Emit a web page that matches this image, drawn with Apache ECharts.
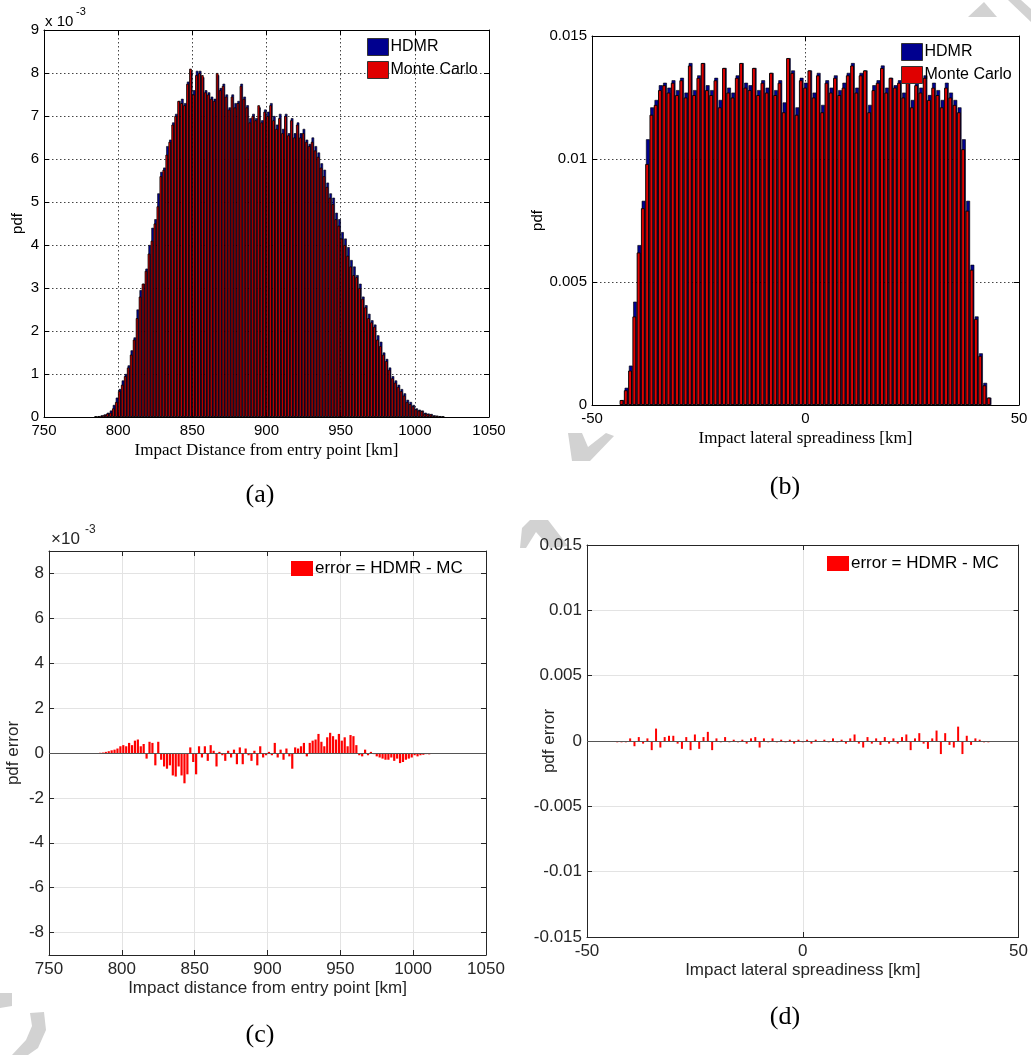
<!DOCTYPE html>
<html><head><meta charset="utf-8">
<script src="https://cdn.jsdelivr.net/npm/echarts@6/dist/echarts.min.js"></script>
<style>html,body{margin:0;padding:0;background:#fff}#c{width:1031px;height:1055px}</style>
</head><body><div id="c"></div>
<script>
// ---------- DATA ----------
// Panel (a)/(c): impact distance bins [km], pdf values in units of 1e-3
var binsA = [785,787,789,791,793,795,797,799,801,803,805,807,809,811,813,815,817,819,821,823,825,827,829,831,833,835,837,839,841,843,845,847,849,851,853,855,857,859,861,863,865,867,869,871,873,875,877,879,881,883,885,887,889,891,893,895,897,899,901,903,905,907,909,911,913,915,917,919,921,923,925,927,929,931,933,935,937,939,941,943,945,947,949,951,953,955,957,959,961,963,965,967,969,971,973,975,977,979,981,983,985,987,989,991,993,995,997,999,1001,1003,1005,1007,1009,1011,1013,1015,1017,1019];
var mcA = [0.01,0.02,0.03,0.05,0.08,0.1,0.2,0.35,0.6,0.75,
0.95,1.15,1.45,1.8,2.3,2.8,3.1,3.4,3.8,4.1,
4.5,4.9,5.6,5.75,6.1,6.4,6.8,7.0,7.35,7.3,
7.25,7.75,8.1,7.5,7.95,8.0,7.95,7.55,7.5,7.4,
7.35,8.0,7.6,7.7,7.45,7.15,7.45,7.2,7.3,7.7,
7.4,7.2,6.85,7.0,6.9,7.25,6.85,7.1,7.0,7.25,
6.9,6.7,6.95,6.6,7.0,6.55,6.9,6.5,6.8,6.5,
6.6,6.4,6.3,6.4,6.2,6.05,5.8,5.6,5.35,5.1,
4.95,4.6,4.45,4.15,4.0,3.75,3.5,3.3,3.25,3.0,
2.75,2.55,2.3,2.2,2.1,1.8,1.65,1.45,1.3,1.1,
0.9,0.8,0.7,0.6,0.5,0.35,0.3,0.25,0.18,0.15,
0.14,0.08,0.07,0.06,0.03,0.03,0.02,0.01];
var hdmrA = [0.01,0.02,0.04,0.06,0.1,0.15,0.28,0.45,0.65,0.85,
1.0,1.2,1.55,1.85,2.5,2.95,3.1,3.45,4.0,4.4,
4.6,5.2,5.7,5.8,6.3,6.45,6.85,7.05,7.35,7.4,
7.3,7.8,8.05,7.6,8.05,8.05,7.9,7.6,7.55,7.45,
7.4,7.95,7.65,7.75,7.5,7.2,7.5,7.3,7.35,7.75,
7.45,7.25,6.95,7.05,6.95,7.2,6.9,7.15,7.1,7.3,
7.0,6.8,7.05,6.7,7.05,6.6,6.95,6.6,6.85,6.6,
6.7,6.45,6.35,6.5,6.3,6.15,5.9,5.75,5.45,5.2,
5.1,4.75,4.6,4.3,4.15,3.95,3.65,3.5,3.3,3.1,
2.8,2.6,2.4,2.25,2.15,1.9,1.75,1.5,1.35,1.15,
0.95,0.85,0.75,0.65,0.55,0.4,0.35,0.28,0.2,0.17,
0.15,0.1,0.08,0.07,0.04,0.03,0.02,0.01];
var errA = [0.01,0.02,0.05,0.08,0.12,0.15,0.2,0.3,0.35,0.3,
0.45,0.35,0.55,0.6,0.3,0.4,-0.25,0.5,0.45,-0.55,
0.5,-0.3,-0.6,-0.7,-0.55,-1.0,-1.05,-0.6,-1.0,-1.35,
-0.95,0.25,-0.4,-0.95,0.3,-0.2,0.3,-0.35,0.35,0.1,
-0.6,0.05,-0.1,-0.35,0.1,-0.2,0.15,-0.5,0.25,-0.5,
0.2,-0.1,-0.35,0.1,-0.55,0.3,-0.2,-0.1,0.05,-0.1,
0.45,-0.2,0.15,-0.3,0.2,-0.15,-0.7,0.25,0.2,0.3,
0.45,-0.15,0.45,0.55,0.6,0.85,0.5,0.3,0.7,0.9,
0.75,0.6,0.85,0.55,0.7,0.3,0.8,0.75,0.35,-0.1,
-0.15,0.15,-0.1,0.05,-0.05,-0.15,-0.2,-0.25,-0.3,-0.3,
-0.2,-0.35,-0.25,-0.45,-0.4,-0.3,-0.25,-0.2,-0.1,-0.15,
-0.1,-0.08,-0.05,-0.06,-0.04,0,0,0];
var yTicksC = [-8,-6,-4,-2,0,2,4,6,8];

// Panel (b)/(d): lateral spreadiness bins [km], pdf values
var binsB = [-43,-42,-41,-40,-39,-38,-37,-36,-35,-34,-33,-32,-31,-30,-29,-28,-27,-26,-25,-24,-23,-22,-21,-20,-19,-18,-17,-16,-15,-14,-13,-12,-11,-10,-9,-8,-7,-6,-5,-4,-3,-2,-1,0,1,2,3,4,5,6,7,8,9,10,11,12,13,14,15,16,17,18,19,20,21,22,23,24,25,26,27,28,29,30,31,32,33,34,35,36,37,38,39,40,41,42,43];
var mcB = [0.0002,0.0006,0.0014,0.0036,0.0062,0.0080,0.0098,0.0118,0.0122,0.0128,
0.0130,0.0127,0.0131,0.0126,0.0132,0.0125,0.0138,0.0126,0.0133,0.0139,
0.0128,0.0126,0.0132,0.0121,0.0137,0.0127,0.0125,0.0133,0.0139,0.0129,
0.0128,0.0137,0.0126,0.0131,0.0127,0.0135,0.0126,0.0131,0.0119,0.0141,
0.0135,0.0118,0.0132,0.0129,0.0136,0.0125,0.0134,0.0119,0.0131,0.0127,
0.0133,0.0126,0.0129,0.0134,0.0138,0.0127,0.0134,0.0136,0.0119,0.0128,
0.0131,0.0137,0.0127,0.0133,0.0129,0.0131,0.0125,0.0132,0.0121,0.0130,
0.0127,0.0133,0.0124,0.0129,0.0126,0.0121,0.0129,0.0125,0.0122,0.0119,
0.0104,0.0079,0.0055,0.0035,0.0020,0.0008,0.0003];
var hdmrB = [0.0002,0.0007,0.0016,0.0042,0.0065,0.0083,0.0108,0.0121,0.0124,0.0130,
0.0131,0.0129,0.0132,0.0128,0.0133,0.0127,0.0139,0.0128,0.0134,0.0139,
0.0130,0.0128,0.0133,0.0124,0.0137,0.0129,0.0127,0.0134,0.0139,0.0131,
0.0130,0.0137,0.0128,0.0132,0.0129,0.0135,0.0128,0.0132,0.0123,0.0141,
0.0136,0.0121,0.0133,0.0131,0.0136,0.0127,0.0135,0.0122,0.0132,0.0129,
0.0134,0.0128,0.0131,0.0135,0.0139,0.0129,0.0135,0.0136,0.0122,0.0130,
0.0132,0.0138,0.0129,0.0133,0.0130,0.0132,0.0127,0.0133,0.0124,0.0131,
0.0129,0.0134,0.0126,0.0131,0.0128,0.0124,0.0131,0.0127,0.0124,0.0121,
0.0108,0.0083,0.0057,0.0036,0.0021,0.0009,0.0003];
var errB = [-0.0001,-0.0001,-0.0001,0.0002,-0.0004,0.0003,-0.0002,0.0002,-0.0007,0.00095,
-0.0005,0.0003,0.0004,0.0004,-0.0002,-0.0006,0.0003,-0.0007,0.0005,-0.0006,
0.0003,0.0007,-0.0007,0.0002,-0.0001,0.0003,-0.0001,0.0001,-0.0001,0.0001,
-0.0002,0.0002,0.0003,-0.0005,0.0002,-0.0001,0.0002,-0.0001,0.0001,-0.0001,
0.0001,-0.0002,0.0001,-0.0001,0.0001,-0.0002,0.0001,0,0.0001,-0.0001,
0.0002,-0.0001,0.0001,-0.0002,0.0002,0.0005,-0.0002,-0.0005,0.0003,-0.0002,
0.0002,-0.0003,0.0003,-0.0002,0.0002,-0.0002,0.0003,0.0005,-0.0007,0.0002,
0.0006,-0.0002,-0.0006,0.0002,0.0008,-0.0010,0.0006,-0.0003,-0.0005,0.0011,
-0.0010,0.0004,-0.0003,0.0002,0.0001,-0.0001,-0.0001];

// ---------- CHART ----------
var SANS = '"Liberation Sans", Arial, sans-serif';
var SERIF = '"Liberation Serif", "DejaVu Serif", serif';
function pairs(xs, ys){ return xs.map(function(x,i){ return [x, ys[i]]; }); }
function plain(v){ return String(v); }

var oldStyle = { axisCol:'#000', split:{show:true, lineStyle:{color:'#444', type:[1.5,2.5], width:1}}, font:15, labCol:'#000' };
var newStyle = { axisCol:'#262626', split:{show:true, lineStyle:{color:'#e3e3e3', type:'solid', width:1}}, font:17, labCol:'#262626' };

function xAx(g, min, max, iv, st, name, nameFont, nameSize, gap){
  return { type:'value', gridIndex:g, min:min, max:max, interval:iv, position:'bottom',
    axisLine:{show:true, onZero:false, lineStyle:{color:st.axisCol}},
    axisTick:{show:true, inside:true, length:5, lineStyle:{color:st.axisCol}},
    axisLabel:{color:st.labCol, fontSize:st.font, fontFamily:SANS, margin:6, formatter:plain},
    splitLine:st.split,
    name:name, nameLocation:'middle', nameGap:gap, nameMoveOverlap:false,
    nameTextStyle:{fontFamily:nameFont, fontSize:nameSize, color:st.labCol} };
}
function xTop(g, min, max, iv, st){
  return { type:'value', gridIndex:g, min:min, max:max, interval:iv, position:'top',
    axisLine:{show:true, onZero:false, lineStyle:{color:st.axisCol}},
    axisTick:{show:true, inside:true, length:5, lineStyle:{color:st.axisCol}},
    axisLabel:{show:false}, splitLine:{show:false} };
}
function yAx(g, min, max, iv, st, name, gap, custom){
  var o = { type:'value', gridIndex:g, min:min, max:max, position:'left',
    axisLine:{show:true, onZero:false, lineStyle:{color:st.axisCol}},
    axisTick:{show:true, inside:true, length:5, lineStyle:{color:st.axisCol}},
    axisLabel:{color:st.labCol, fontSize:st.font, fontFamily:SANS, margin:5, formatter:plain},
    splitLine:st.split,
    name:name, nameLocation:'middle', nameRotate:90, nameGap:gap, nameMoveOverlap:false,
    nameTextStyle:{fontFamily:SANS, fontSize:st.font, color:st.labCol} };
  if (custom) { o.axisLabel.customValues = custom; o.axisTick.customValues = custom; }
  else { o.interval = iv; }
  return o;
}
function yRight(g, min, max, iv, st, custom){
  var o = { type:'value', gridIndex:g, min:min, max:max, position:'right',
    axisLine:{show:true, onZero:false, lineStyle:{color:st.axisCol}},
    axisTick:{show:true, inside:true, length:5, lineStyle:{color:st.axisCol}},
    axisLabel:{show:false}, splitLine:{show:false} };
  if (custom) { o.axisTick.customValues = custom; o.axisLabel.customValues = custom; }
  else { o.interval = iv; }
  return o;
}

var WM = '#d2d2d2';
var option = {
  animation:false,
  backgroundColor:'#fff',
  grid:[
    {left:44, top:30, width:445, height:387, containLabel:false},
    {left:592, top:36, width:427, height:369, containLabel:false},
    {left:49, top:551, width:437, height:404, containLabel:false},
    {left:587, top:545, width:433, height:392, containLabel:false}
  ],
  xAxis:[
    xAx(0, 750, 1050, 50, oldStyle, 'Impact Distance from entry point [km]', SERIF, 17, 25),
    xAx(1, -50, 50, 50, oldStyle, 'Impact lateral spreadiness [km]', SERIF, 17, 25),
    xAx(2, 750, 1050, 50, newStyle, 'Impact distance from entry point [km]', SANS, 17, 25),
    xAx(3, -50, 50, 50, newStyle, 'Impact lateral spreadiness [km]', SANS, 17, 25),
    xTop(0, 750, 1050, 50, oldStyle),
    xTop(1, -50, 50, 50, oldStyle),
    xTop(2, 750, 1050, 50, newStyle),
    xTop(3, -50, 50, 50, newStyle)
  ],
  yAxis:[
    yAx(0, 0, 9, 1, oldStyle, 'pdf', 19),
    yAx(1, 0, 0.015, 0.005, oldStyle, 'pdf', 47),
    yAx(2, -9, 9, 2, newStyle, 'pdf error', 27, yTicksC),
    yAx(3, -0.015, 0.015, 0.005, newStyle, 'pdf error', 29),
    yRight(0, 0, 9, 1, oldStyle),
    yRight(1, 0, 0.015, 0.005, oldStyle),
    yRight(2, -9, 9, 2, newStyle, yTicksC),
    yRight(3, -0.015, 0.015, 0.005, newStyle)
  ],
  legend:[
    {data:['HDMR','Monte Carlo'], orient:'vertical', left:367, top:38, padding:0, itemGap:5,
     itemWidth:21, itemHeight:17, selectedMode:false, icon:'rect',
     itemStyle:{borderColor:'#333', borderWidth:1},
     textStyle:{fontFamily:SANS, fontSize:16, color:'#000', padding:[0,0,0,-3]}},
    {data:['HDMR','Monte Carlo'], orient:'vertical', left:901, top:43, padding:0, itemGap:5,
     itemWidth:21, itemHeight:17, selectedMode:false, icon:'rect',
     itemStyle:{borderColor:'#333', borderWidth:1},
     textStyle:{fontFamily:SANS, fontSize:16, color:'#000', padding:[0,0,0,-3]}},
    {data:['error = HDMR - MC'], left:291, top:560, padding:0,
     itemWidth:22, itemHeight:15, selectedMode:false, icon:'rect',
     textStyle:{fontFamily:SANS, fontSize:17, color:'#000', padding:[0,0,0,-3]}},
    {data:['error = HDMR - MC'], left:827, top:555, padding:0,
     itemWidth:22, itemHeight:15, selectedMode:false, icon:'rect',
     textStyle:{fontFamily:SANS, fontSize:17, color:'#000', padding:[0,0,0,-3]}}
  ],
  series:[
    {type:'bar', name:'Monte Carlo', xAxisIndex:0, yAxisIndex:0, data:pairs(binsA, mcA),
     barWidth:2.6, barGap:'-72%', z:3, itemStyle:{color:'#e00000', borderColor:'#000', borderWidth:0.8}},
    {type:'bar', name:'HDMR', xAxisIndex:0, yAxisIndex:0, data:pairs(binsA, hdmrA),
     barWidth:2.6, barGap:'-72%', z:2, itemStyle:{color:'#00008f', borderColor:'#000', borderWidth:0.6}},
    {type:'bar', name:'Monte Carlo', xAxisIndex:1, yAxisIndex:1, data:pairs(binsB, mcB),
     barWidth:3.8, barGap:'-80%', z:3, itemStyle:{color:'#e00000', borderColor:'#000', borderWidth:0.9}},
    {type:'bar', name:'HDMR', xAxisIndex:1, yAxisIndex:1, data:pairs(binsB, hdmrB),
     barWidth:3.8, barGap:'-80%', z:2, itemStyle:{color:'#00008f', borderColor:'#000', borderWidth:0.6}},
    {type:'bar', name:'error = HDMR - MC', xAxisIndex:2, yAxisIndex:2, data:pairs(binsA, errA),
     barWidth:2.2, z:3, itemStyle:{color:'#ff0000'},
     markLine:{silent:true, symbol:'none', label:{show:false}, lineStyle:{color:'#555', width:1, type:'solid'}, data:[{yAxis:0}]}},
    {type:'bar', name:'error = HDMR - MC', xAxisIndex:3, yAxisIndex:3, data:pairs(binsB, errB),
     barWidth:2, z:3, itemStyle:{color:'#ff0000'},
     markLine:{silent:true, symbol:'none', label:{show:false}, lineStyle:{color:'#555', width:1, type:'solid'}, data:[{yAxis:0}]}}
  ],
  graphic:[
    // faint watermark fragments
    {type:'polygon', z:-1, shape:{points:[[968,17],[984,2],[997,17]]}, style:{fill:WM}},
    {type:'polygon', z:-1, shape:{points:[[1008,0],[1021,0],[1031,9],[1031,22]]}, style:{fill:WM}},
    {type:'polygon', z:-1, shape:{points:[[568,433],[582,433],[588,447],[606,433],[614,436],[590,461],[572,461]]}, style:{fill:WM}},
    {type:'polygon', z:-1, shape:{points:[[522,528],[530,520],[548,520],[568,546],[550,548],[536,532],[526,548],[520,548]]}, style:{fill:WM}},
    {type:'polygon', z:-1, shape:{points:[[0,993],[12,993],[12,1006],[0,1008]]}, style:{fill:WM}},
    {type:'polygon', z:-1, shape:{points:[[30,1013],[44,1012],[46,1030],[38,1048],[28,1055],[12,1055],[26,1040],[32,1026]]}, style:{fill:WM}},
    // exponent labels
    {type:'text', x:45, y:22, style:{text:'x 10', font:'15px '+SANS, fill:'#000', align:'left', verticalAlign:'middle'}},
    {type:'text', x:76, y:12, style:{text:'-3', font:'11px '+SANS, fill:'#000', align:'left', verticalAlign:'middle'}},
    {type:'text', x:51, y:539, style:{text:'\u00d710', font:'17px '+SANS, fill:'#262626', align:'left', verticalAlign:'middle'}},
    {type:'text', x:85, y:530, style:{text:'-3', font:'12px '+SANS, fill:'#262626', align:'left', verticalAlign:'middle'}},
    // panel captions
    {type:'text', x:260, y:495, style:{text:'(a)', font:'26px '+SERIF, fill:'#000', align:'center', verticalAlign:'middle'}},
    {type:'text', x:785, y:487, style:{text:'(b)', font:'26px '+SERIF, fill:'#000', align:'center', verticalAlign:'middle'}},
    {type:'text', x:260, y:1035, style:{text:'(c)', font:'26px '+SERIF, fill:'#000', align:'center', verticalAlign:'middle'}},
    {type:'text', x:785, y:1017, style:{text:'(d)', font:'26px '+SERIF, fill:'#000', align:'center', verticalAlign:'middle'}}
  ]
};
var chart = echarts.init(document.getElementById('c'), null, {renderer:'canvas'});
chart.setOption(option);
</script></body></html>
